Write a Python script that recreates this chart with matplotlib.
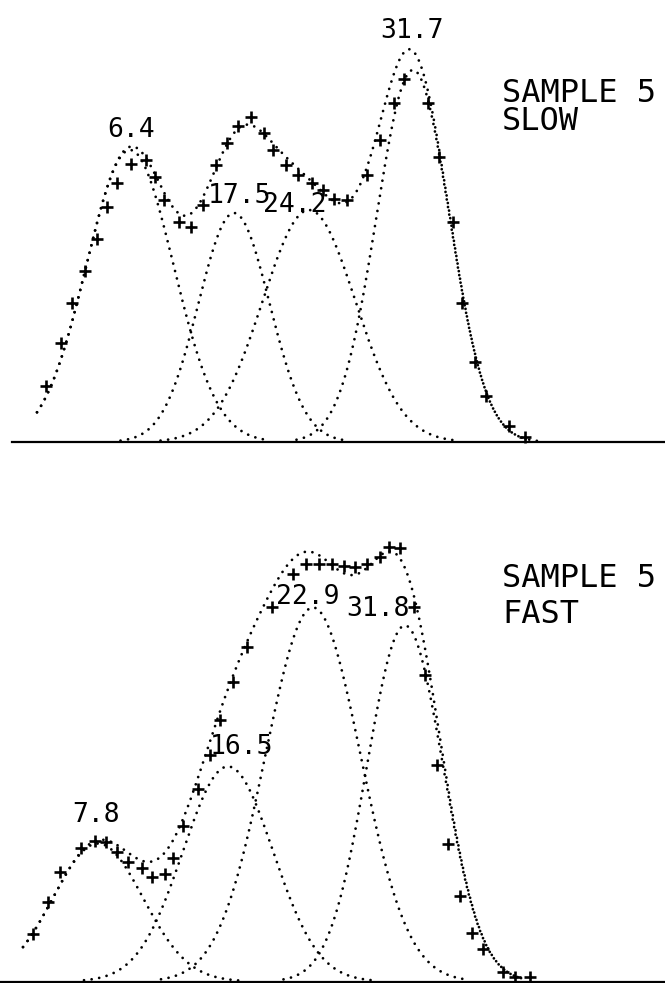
from __future__ import annotations

import numpy as np
import matplotlib

matplotlib.use("Agg")
import matplotlib.pyplot as plt


FIG_W_PX = 665
FIG_H_PX = 983
DPI = 100

# Muestra 5, lenta: gaussianas ajustadas (centro en canal, altura, sigma)
SLOW_CENTERS = [130, 234, 309, 413]
SLOW_HEIGHTS = [292, 229, 232, 372]
SLOW_SIGMAS = [43.5, 35.5, 46.5, 36.5]
SLOW_LABELS = ["6.4", "17.5", "24.2", "31.7"]

# Muestra 5, lenta: puntos medidos
SLOW_CHANNELS = [46, 61, 72, 85, 97, 107, 117, 131, 146, 155, 164, 179, 191, 203, 216, 227, 238,
				 251, 264, 273, 286, 298, 312, 323, 334, 347, 367, 380, 394, 404, 428, 439, 453,
				 462, 475, 486, 509, 525]
SLOW_COUNTS = [56, 99, 139, 171, 203, 235, 259, 278, 282, 265, 242, 220, 215, 237, 277, 299, 316,
			   325, 309, 292, 277, 267, 259, 252, 243, 242, 267, 302, 339, 363, 339, 285, 220,
			   139, 80, 46, 16, 5]

# Muestra 5, rapida: gaussianas ajustadas
FAST_CENTERS = [98, 228, 313, 405]
FAST_HEIGHTS = [138, 215, 374, 356]
FAST_SIGMAS = [45, 45, 47.5, 38]
FAST_LABELS = ["7.8", "16.5", "22.9", "31.8"]

# Muestra 5, rapida: puntos medidos
FAST_CHANNELS = [33, 48, 60, 81, 95, 106, 117, 128, 142, 152, 165, 173, 183, 198, 210, 220, 233,
				 247, 272, 293, 306, 319, 332, 344, 355, 367, 380, 389, 400, 414, 425, 437, 448,
				 460, 472, 483, 503, 515, 530]
FAST_COUNTS = [48, 80, 110, 134, 141, 140, 130, 120, 114, 105, 108, 124, 156, 193, 227, 262, 300,
			   335, 375, 407, 417, 417, 417, 415, 414, 417, 424, 434, 433, 375, 307, 217, 138,
			   86, 49, 33, 10, 5, 5]

# rango de canales de la envolvente y desplazamiento de cada etiqueta respecto a su pico
SLOW_RANGE = (37, 540)
FAST_RANGE = (23, 522)
SLOW_LABEL_OFFSETS = [(1, 13), (6, 10), (-14, -2), (-1, 32)]
FAST_LABEL_OFFSETS = [(-2, 22), (14, 12), (-5, 3), (-27, 9)]

TEXT_FONT = "DejaVu Sans Mono"
DOT_STYLE = dict(color="black", linewidth=2.0, linestyle=(0, (0.01, 2.75)), dash_capstyle="round")


def gaussian(x: np.ndarray, center: float, height: float, sigma: float) -> np.ndarray:
	return height * np.exp(-((x - center) ** 2) / (2.0 * sigma ** 2))


def draw_panel(ax, centers, heights, sigmas, labels, offsets, channels, counts, x_range, baseline_start):
	x = np.arange(x_range[0], x_range[1] + 0.5, 0.5)
	envelope = np.zeros_like(x)

	for center, height, sigma in zip(centers, heights, sigmas):
		comp = gaussian(x, center, height, sigma)
		envelope += comp
		mask = np.abs(x - center) <= 3.2 * sigma
		ax.plot(x[mask], comp[mask], clip_on=False, **DOT_STYLE)

	ax.plot(x, envelope, clip_on=False, **DOT_STYLE)
	ax.plot(channels, counts, linestyle="none", marker="+", markersize=8.5, markeredgewidth=1.9,
			color="black", clip_on=False)

	ax.plot([baseline_start, FIG_W_PX], [0, 0], color="black", linewidth=1.6, clip_on=False)

	for center, height, label, (dx, dy) in zip(centers, heights, labels, offsets):
		ax.text(center + dx, height + dy, label, ha="center", va="baseline",
				fontsize=19, family=TEXT_FONT)


def main() -> None:
	fig = plt.figure(figsize=(FIG_W_PX / DPI, FIG_H_PX / DPI), dpi=DPI)

	# panel superior: linea base en la fila 442
	top_base = 442
	ax_slow = fig.add_axes([0, (FIG_H_PX - top_base) / FIG_H_PX, 1, top_base / FIG_H_PX])
	ax_slow.set_xlim(0, FIG_W_PX)
	ax_slow.set_ylim(0, top_base)
	ax_slow.set_axis_off()
	draw_panel(ax_slow, SLOW_CENTERS, SLOW_HEIGHTS, SLOW_SIGMAS, SLOW_LABELS, SLOW_LABEL_OFFSETS,
			   SLOW_CHANNELS, SLOW_COUNTS, SLOW_RANGE, 12)
	ax_slow.text(502, 340, "SAMPLE 5", ha="left", va="baseline", fontsize=23, family=TEXT_FONT)
	ax_slow.text(502, 312, "SLOW", ha="left", va="baseline", fontsize=23, family=TEXT_FONT)

	# panel inferior: linea base casi en el borde
	bottom_base = 981.5
	bottom_h = 500
	ax_fast = fig.add_axes([0, (FIG_H_PX - bottom_base) / FIG_H_PX, 1, bottom_h / FIG_H_PX])
	ax_fast.set_xlim(0, FIG_W_PX)
	ax_fast.set_ylim(0, bottom_h)
	ax_fast.set_axis_off()
	draw_panel(ax_fast, FAST_CENTERS, FAST_HEIGHTS, FAST_SIGMAS, FAST_LABELS, FAST_LABEL_OFFSETS,
			   FAST_CHANNELS, FAST_COUNTS, FAST_RANGE, 0)
	ax_fast.text(502, 394.5, "SAMPLE 5", ha="left", va="baseline", fontsize=23, family=TEXT_FONT)
	ax_fast.text(502, 358.5, "FAST", ha="left", va="baseline", fontsize=23, family=TEXT_FONT)

	fig.savefig("out.png", dpi=DPI, facecolor="white")
	plt.close(fig)


if __name__ == "__main__":
	main()
